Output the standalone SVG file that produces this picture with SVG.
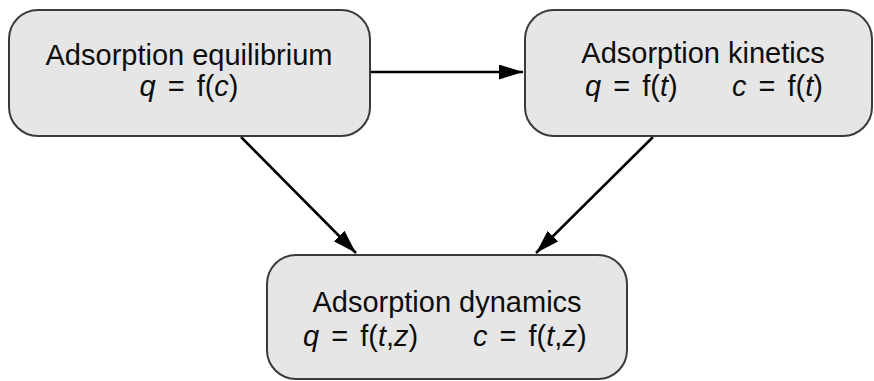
<svg xmlns="http://www.w3.org/2000/svg" width="874" height="381" viewBox="0 0 874 381">
<style>
.box{fill:#e6e6e6;stroke:#3a3a3a;stroke-width:2}
.t{font-family:"Liberation Sans",Arial,sans-serif;font-size:29px;fill:#0d0d0d}
.e{word-spacing:4px}
.i{font-style:italic}
.c{stroke:#000;stroke-width:2.5;fill:none}
</style>
<defs>
<marker id="ah" markerUnits="userSpaceOnUse" markerWidth="26" markerHeight="16" refX="24" refY="7.5" orient="auto">
<path d="M0,0 L24,7.5 L0,15 Z" fill="#000"/>
</marker>
</defs>
<rect width="874" height="381" fill="#fff"/>
<g id="connectors">
<line class="c" x1="371" y1="72" x2="523" y2="72" marker-end="url(#ah)"/>
<line class="c" x1="241" y1="137" x2="356" y2="253" marker-end="url(#ah)"/>
<line class="c" x1="653" y1="137" x2="536" y2="253" marker-end="url(#ah)"/>
</g>
<g id="equilibrium">
<rect class="box" x="9" y="10" width="361" height="126" rx="29"/>
<text class="t" x="189" y="65" text-anchor="middle">Adsorption equilibrium</text>
<text class="t e" x="189" y="96" text-anchor="middle"><tspan class="i">q</tspan> = f(<tspan class="i">c</tspan>)</text>
</g>
<g id="kinetics">
<rect class="box" x="525" y="10" width="347" height="126" rx="29"/>
<text class="t" x="703" y="63" text-anchor="middle">Adsorption kinetics</text>
<text class="t e" x="585" y="96"><tspan class="i">q</tspan> = f(<tspan class="i">t</tspan>)</text>
<text class="t e" x="732" y="96"><tspan class="i">c</tspan> = f(<tspan class="i">t</tspan>)</text>
</g>
<g id="dynamics">
<rect class="box" x="267" y="255" width="360" height="124" rx="29"/>
<text class="t" x="447" y="312" text-anchor="middle">Adsorption dynamics</text>
<text class="t e" x="303" y="346"><tspan class="i">q</tspan> = f(<tspan class="i">t</tspan>,<tspan class="i">z</tspan>)</text>
<text class="t e" x="473" y="346"><tspan class="i">c</tspan> = f(<tspan class="i">t</tspan>,<tspan class="i">z</tspan>)</text>
</g>
</svg>
